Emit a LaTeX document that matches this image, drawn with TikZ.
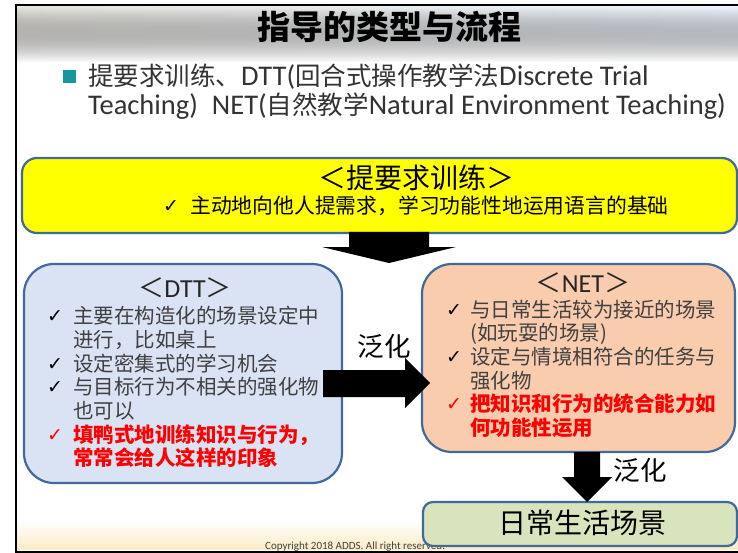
\documentclass[tikz,border=0pt]{standalone}
\usepackage{fontspec}
\setmainfont{Noto Sans CJK SC}
\newfontfamily\latf{Carlito}
\newfontfamily\symf{DejaVu Sans}
\usetikzlibrary{fadings}
\definecolor{bordc}{RGB}{65,105,155}
\definecolor{dttc}{RGB}{218,227,243}
\definecolor{netc}{RGB}{248,204,173}
\definecolor{grnc}{RGB}{216,228,188}
\definecolor{yelc}{RGB}{255,255,0}
\definecolor{txtc}{RGB}{64,64,64}
\definecolor{bulc}{RGB}{22,150,158}
\definecolor{redc}{RGB}{255,0,0}
\definecolor{bandl}{RGB}{232,230,224}
\definecolor{bandm}{RGB}{240,234,220}
\definecolor{bandr}{RGB}{236,244,253}
\definecolor{bandb}{RGB}{252,236,196}
\tikzset{
  box/.style={draw=bordc, line width=2.2pt, rounded corners=#1, inner sep=0pt},
  item/.style={anchor=west, inner sep=0pt, text=txtc, font=\fontsize{20.5}{24}\selectfont, text height=17pt, text depth=4pt},
  reditem/.style={item, text=redc, font=\bfseries\fontsize{20.5}{24}\selectfont},
  chk/.style={anchor=west, inner sep=0pt, text=black, font=\symf\fontsize{19}{19}\selectfont},
  redchk/.style={chk, text=redc},
  heading/.style={inner sep=0pt, text=black!85, font=\fontsize{26}{26}\selectfont},
  bline/.style={anchor=base west, inner sep=0pt, text=black!80, font=\fontsize{25.5}{29}\selectfont},
  fanhua/.style={inner sep=0pt, text=black, font=\fontsize{26.5}{27}\selectfont},
  blockarrow/.style={fill=black}
}
\newcommand{\LT}[1]{{\latf\fontsize{28.5}{29}\selectfont #1}}
\newcommand{\LH}[1]{{\latf #1}}
\begin{document}
\begin{tikzpicture}[x=1pt,y=-1pt]
\useasboundingbox (0,0) rectangle (738,553);
\fill[white] (0,0) rectangle (738,553);
% background bands
\fill[left color=bandl, middle color=bandm, right color=bandr, path fading=south] (17,7) rectangle (738,62);
\fill[color=bandb, path fading=north] (17,520) rectangle (738,550);
% frame
\draw[line width=2.6pt] (16,553) -- (16,5) -- (738,5);
\draw[line width=2pt] (16,551.5) -- (738,551.5);

% title
\node[inner sep=0pt, font=\bfseries\fontsize{33}{33}\selectfont] (title) at (389,27) {指导的类型与流程};

% bullet
\node[fill=bulc, minimum size=13pt, inner sep=0pt] (bul) at (69,77) {};
\node[bline] (bl1) at (88,86) {提要求训练、\LT{DTT(}回合式操作教学法\LT{Discrete Trial}};
\node[bline] (bl2) at (88,115) {\LT{Teaching)\hspace{14pt}NET(}自然教学\LT{Natural Environment Teaching)}};

% copyright
\node[anchor=base west, inner sep=0pt, text=black!75, font=\latf\fontsize{11}{11}\selectfont] (copy) at (265,549) {Copyright 2018 ADDS. All right reserved.};

% boxes
\node[box=15pt, fill=yelc, minimum width=715pt, minimum height=75pt] (yel) at (379.5,195.5) {};
\node[box=30pt, fill=dttc, minimum width=318pt, minimum height=219pt] (dtt) at (183,373.5) {};
\node[box=30pt, fill=netc, minimum width=313pt, minimum height=188pt] (net) at (578.5,358) {};
\node[box=10pt, fill=grnc, minimum width=314pt, minimum height=44pt] (grn) at (580,524) {};

% yellow box text
\node[inner sep=0pt, text=black, font=\fontsize{28}{28}\selectfont] (yt) at (416,178) {＜提要求训练＞};
\node[chk] (yc) at (163,207) {✓};
\node[item, text=black, font=\fontsize{20.8}{24}\selectfont] (y1) at (190,207) {主动地向他人提需求，学习功能性地运用语言的基础};

% DTT text
\node[heading] (dt) at (185,288) {＜\LH{DTT}＞};
\node[chk] (dc1) at (47,317) {✓};
\node[item] (d1) at (73,317) {主要在构造化的场景设定中};
\node[item] (d2) at (73,341) {进行，比如桌上};
\node[chk] (dc3) at (47,365) {✓};
\node[item] (d3) at (73,365) {设定密集式的学习机会};
\node[chk] (dc4) at (47,388) {✓};
\node[item] (d4) at (73,388) {与目标行为不相关的强化物};
\node[item] (d5) at (73,412) {也可以};
\node[redchk] (dc6) at (47,436) {✓};
\node[reditem] (d6) at (73,436) {填鸭式地训练知识与行为，};
\node[reditem] (d7) at (73,459) {常常会给人这样的印象};

% NET text
\node[heading] (nt) at (583,283) {＜\LH{NET}＞};
\node[chk] (nc1) at (446,311) {✓};
\node[item] (n1) at (470,311) {与日常生活较为接近的场景};
\node[item] (n2) at (470,334) {(如玩耍的场景)};
\node[chk] (nc3) at (446,358) {✓};
\node[item] (n3) at (470,358) {设定与情境相符合的任务与};
\node[item] (n4) at (470,382) {强化物};
\node[redchk] (nc5) at (446,405) {✓};
\node[reditem] (n5) at (470,405) {把知识和行为的统合能力如};
\node[reditem] (n6) at (470,429) {何功能性运用};

% green box text
\node[inner sep=0pt, text=black, font=\fontsize{28}{28}\selectfont] (gt) at (582,523) {日常生活场景};

% block arrows
\fill[blockarrow] (349,232) -- (429,232) -- (429,247) -- (456,247) -- (389,263) -- (322,247) -- (349,247) -- cycle;
\fill[blockarrow] (323,370) -- (405,370) -- (405,358) -- (430,383) -- (405,408) -- (405,397) -- (323,397) -- cycle;
\fill[blockarrow] (574,452) -- (600,452) -- (600,477) -- (612,477) -- (587,502) -- (562,477) -- (574,477) -- cycle;

% labels
\node[fanhua] (f1) at (384,346) {泛化};
\node[fanhua] (f2) at (640,470) {泛化};
\end{tikzpicture}
\end{document}
